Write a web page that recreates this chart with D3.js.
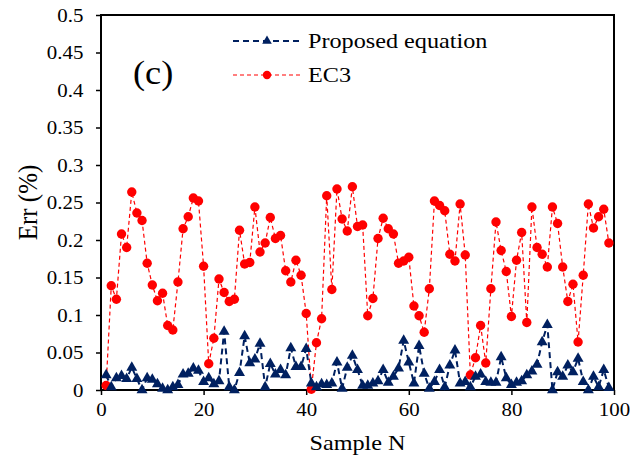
<!DOCTYPE html>
<html>
<head>
  <meta charset="utf-8">
  <script src="https://d3js.org/d3.v7.min.js"></script>
  <style>
    body { margin: 0; background: #fff; }
    text { font-family: 'Liberation Serif', 'Times New Roman', serif; fill: #000; }
  </style>
</head>
<body>
  <div id="chart"></div>
  <script type="text/javascript">
    // sample numbers along the x axis
    const sampleN = d3.range(1, 100);

    const proposedErr = [
      0.020, 0.004, 0.016, 0.019, 0.015, 0.030, 0.015, 0.000, 0.016, 0.014,
      0.008, 0.002, 0.000, 0.004, 0.007, 0.021, 0.022, 0.029, 0.026, 0.011,
      0.016, 0.008, 0.012, 0.078, 0.004, 0.000, 0.023, 0.072, 0.036, 0.041,
      0.062, 0.004, 0.035, 0.021, 0.027, 0.020, 0.056, 0.031, 0.031, 0.055,
      0.009, 0.004, 0.008, 0.007, 0.009, 0.037, 0.002, 0.030, 0.046, 0.027,
      0.006, 0.006, 0.009, 0.012, 0.027, 0.010, 0.018, 0.029, 0.066, 0.037,
      0.009, 0.059, 0.022, 0.002, 0.011, 0.027, 0.004, 0.033, 0.053, 0.009,
      0.011, 0.004, 0.018, 0.021, 0.011, 0.010, 0.010, 0.044, 0.016, 0.007,
      0.010, 0.012, 0.020, 0.025, 0.034, 0.064, 0.087, 0.000, 0.024, 0.018,
      0.033, 0.024, 0.042, 0.011, 0.000, 0.018, 0.004, 0.027, 0.003
    ];

    const ec3Err = [
      0.006, 0.139, 0.121, 0.208, 0.190, 0.264, 0.236, 0.226, 0.169, 0.140,
      0.119, 0.129, 0.086, 0.080, 0.144, 0.215, 0.231, 0.256, 0.252, 0.165,
      0.035, 0.069, 0.148, 0.130, 0.118, 0.121, 0.213, 0.168, 0.170, 0.244,
      0.184, 0.196, 0.230, 0.202, 0.206, 0.159, 0.144, 0.173, 0.153, 0.102,
      0.001, 0.063, 0.095, 0.259, 0.134, 0.268, 0.228, 0.212, 0.271, 0.218,
      0.220, 0.099, 0.122, 0.202, 0.229, 0.215, 0.208, 0.169, 0.172, 0.177,
      0.112, 0.099, 0.077, 0.135, 0.252, 0.246, 0.239, 0.181, 0.172, 0.248,
      0.180, 0.020, 0.043, 0.086, 0.036, 0.135, 0.224, 0.186, 0.158, 0.098,
      0.173, 0.210, 0.090, 0.244, 0.190, 0.181, 0.164, 0.244, 0.222, 0.164,
      0.118, 0.141, 0.064, 0.153, 0.248, 0.216, 0.231, 0.241, 0.196
    ];

    const xTicks = [0, 20, 40, 60, 80, 100];
    const yTicks = [0, 0.05, 0.1, 0.15, 0.2, 0.25, 0.3, 0.35, 0.4, 0.45, 0.5];
    const seriesNames = ['Proposed equation', 'EC3'];

    const width = 630, height = 468;
    const plot = { left: 101, right: 614, top: 15, bottom: 390 };
    // the original figure is a little wider than tall, text is stretched too
    const stretch = 1.1;

    const svg = d3.select('#chart')
      .append('svg')
      .attr('width', width)
      .attr('height', height);

    const x = d3.scaleLinear().domain([0, 100]).range([plot.left, plot.right]);
    const y = d3.scaleLinear().domain([0, 0.5]).range([plot.bottom, plot.top]);

    // axes
    const xAxis = svg.append('g')
      .attr('transform', `translate(0,${plot.bottom})`)
      .call(d3.axisBottom(x).tickValues(xTicks).tickSize(5).tickSizeOuter(0).tickPadding(8));

    const yAxis = svg.append('g')
      .attr('transform', `translate(${plot.left},0)`)
      .call(d3.axisLeft(y).tickValues(yTicks).tickSize(5).tickSizeOuter(0)
        .tickPadding(11).tickFormat(d => String(d)));

    [xAxis, yAxis].forEach(a => {
      a.selectAll('.domain').remove();
      a.selectAll('line').attr('stroke', '#000').attr('stroke-width', 1.5);
      a.selectAll('text')
        .style('font-size', '19px')
        .style('font-family', "'Liberation Serif', serif")
        .attr('transform', `scale(${stretch},1)`);
    });

    // frame
    svg.append('rect')
      .attr('x', plot.left)
      .attr('y', plot.top)
      .attr('width', plot.right - plot.left)
      .attr('height', plot.bottom - plot.top)
      .attr('fill', 'none')
      .attr('stroke', '#000')
      .attr('stroke-width', 2);

    // axis titles
    svg.append('text')
      .attr('transform', `translate(${(plot.left + plot.right) / 2},450) scale(${stretch},1)`)
      .attr('text-anchor', 'middle')
      .style('font-size', '22px')
      .text('Sample N');

    svg.append('text')
      .attr('transform', `translate(37,${(plot.top + plot.bottom) / 2}) scale(${stretch},1) rotate(-90)`)
      .attr('text-anchor', 'middle')
      .style('font-size', '25px')
      .text('Err (%)');

    svg.append('text')
      .attr('transform', `translate(133,84) scale(${stretch},1)`)
      .style('font-size', '33px')
      .text('(c)');

    const blue = '#002060', red = '#ff0000';

    const line = d3.line()
      .x((d, i) => x(sampleN[i]))
      .y(d => y(d));

    // EC3 series
    svg.append('path')
      .datum(ec3Err)
      .attr('d', line)
      .attr('fill', 'none')
      .attr('stroke', red)
      .attr('stroke-width', 1.2)
      .attr('stroke-dasharray', '4,3');

    svg.append('g').selectAll('circle')
      .data(ec3Err)
      .enter()
      .append('circle')
      .attr('cx', (d, i) => x(sampleN[i]))
      .attr('cy', d => y(d))
      .attr('r', 4.7)
      .attr('fill', red);

    // proposed equation series
    svg.append('path')
      .datum(proposedErr)
      .attr('d', line)
      .attr('fill', 'none')
      .attr('stroke', blue)
      .attr('stroke-width', 2)
      .attr('stroke-dasharray', '6,4');

    const tri = d3.symbol().type(d3.symbolTriangle).size(52);

    svg.append('g').selectAll('path')
      .data(proposedErr)
      .enter()
      .append('path')
      .attr('d', tri)
      .attr('transform', (d, i) => `translate(${x(sampleN[i])},${y(d)})`)
      .attr('fill', blue);

    // legend
    const legend = svg.append('g');
    const legendRows = [
      { name: seriesNames[0], y: 41, color: blue, dash: '6,4', w: 2 },
      { name: seriesNames[1], y: 75, color: red, dash: '4,3', w: 1.2 }
    ];

    legendRows.forEach((r, i) => {
      legend.append('line')
        .attr('x1', 233).attr('x2', 300)
        .attr('y1', r.y).attr('y2', r.y)
        .attr('stroke', r.color)
        .attr('stroke-width', r.w)
        .attr('stroke-dasharray', r.dash);
      if (i === 0) {
        legend.append('path')
          .attr('d', d3.symbol().type(d3.symbolTriangle).size(40))
          .attr('transform', `translate(267,${r.y})`)
          .attr('fill', r.color);
      } else {
        legend.append('circle')
          .attr('cx', 267).attr('cy', r.y).attr('r', 4.2)
          .attr('fill', r.color);
      }
      legend.append('text')
        .attr('transform', `translate(308,${r.y + 7}) scale(${stretch},1)`)
        .style('font-size', '22px')
        .text(r.name);
    });
  </script>
</body>
</html>
